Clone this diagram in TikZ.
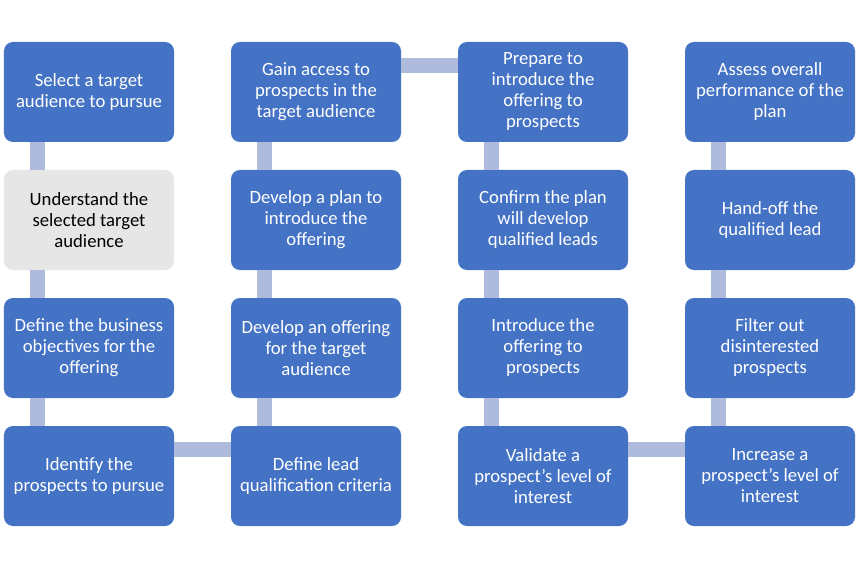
\documentclass[tikz,border=0pt]{standalone}
\usepackage{fontspec}
\setmainfont{Carlito}
\definecolor{boxblue}{RGB}{68,114,196}
\definecolor{boxgray}{RGB}{231,230,230}
\definecolor{connblue}{RGB}{174,187,220}
\begin{document}
\begin{tikzpicture}[x=1bp,y=-1bp,
  box/.style={rectangle, rounded corners=9bp, fill=boxblue, text=white, minimum width=170bp, minimum height=100bp, inner sep=0pt, align=center, font=\fontsize{18.7bp}{21bp}\selectfont},
  graybox/.style={box, fill=boxgray, text=black},
  conn/.style={draw=connblue, line width=15bp, line cap=butt}]
\useasboundingbox (0,0) rectangle (860,568);
% column centres 89, 316, 543, 770 ; row centres 92, 220, 348, 476
\node[box] (a1) at (89,92) {Select a target\\audience to pursue};
\node[graybox] (a2) at (89,220) {Understand the\\selected target\\audience};
\node[box] (a3) at (89,348) {Define the business\\objectives for the\\offering};
\node[box] (a4) at (89,476) {Identify the\\prospects to pursue};
\node[box] (b1) at (316,92) {Gain access to\\prospects in the\\target audience};
\node[box] (b2) at (316,220) {Develop a plan to\\introduce the\\offering};
\node[box] (b3) at (316,348) {Develop an offering\\for the target\\audience};
\node[box] (b4) at (316,476) {Define lead\\qualification criteria};
\node[box] (c1) at (543,92) {Prepare to\\introduce the\\offering to\\prospects};
\node[box] (c2) at (543,220) {Confirm the plan\\will develop\\qualified leads};
\node[box] (c3) at (543,348) {Introduce the\\offering to\\prospects};
\node[box] (c4) at (543,476) {Validate a\\prospect’s level of\\interest};
\node[box] (d1) at (770,92) {Assess overall\\performance of the\\plan};
\node[box] (d2) at (770,220) {Hand-off the\\qualified lead};
\node[box] (d3) at (770,348) {Filter out\\disinterested\\prospects};
\node[box] (d4) at (770,476) {Increase a\\prospect’s level of\\interest};
% vertical connectors
\foreach \c in {a,b,c,d}{
  \draw[conn] ([xshift=34bp]\c1.south west) -- ([xshift=34bp]\c2.north west);
  \draw[conn] ([xshift=34bp]\c2.south west) -- ([xshift=34bp]\c3.north west);
  \draw[conn] ([xshift=34bp]\c3.south west) -- ([xshift=34bp]\c4.north west);
}
% horizontal connectors
\draw[conn] ([yshift=-24bp]a4.north east) -- ([yshift=-24bp]b4.north west);
\draw[conn] ([yshift=-23.5bp]b1.north east) -- ([yshift=-23.5bp]c1.north west);
\draw[conn] ([yshift=-24bp]c4.north east) -- ([yshift=-24bp]d4.north west);
\end{tikzpicture}
\end{document}
